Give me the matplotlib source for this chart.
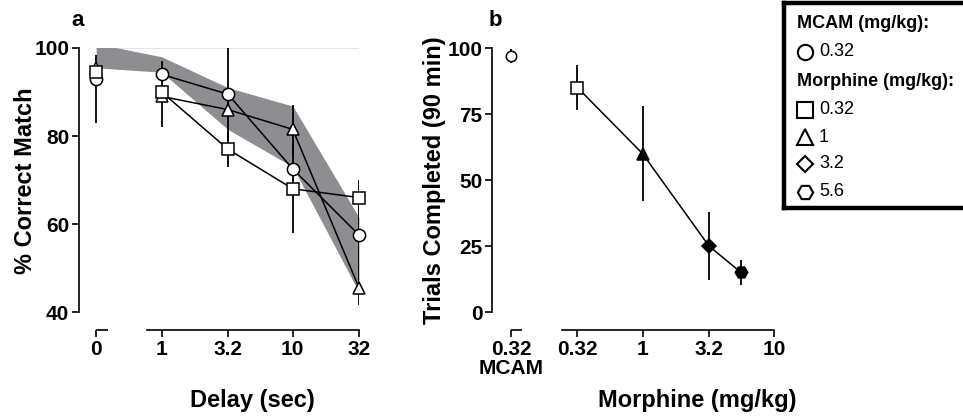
import matplotlib
matplotlib.use("Agg")
import matplotlib.pyplot as plt
from matplotlib.transforms import ScaledTranslation

plt.rcParams['font.family'] = ['Liberation Sans', 'DejaVu Sans']

# ---------------- Data ----------------
# Panel a: delay (sec); 0 is drawn on a broken axis segment
delay_labels = ["0", "1", "3.2", "10", "32"]
delay_pos = [10 ** -0.5, 1, 3.2, 10, 32]

band_lower = [95.5, 94.5, 81.5, 73.0, 44.5]
band_upper = [101.0, 98.0, 91.0, 86.8, 61.5]

mcam_a = [93.0, 94.0, 89.5, 72.5, 57.5]
mcam_a_lo = [10.0, 0.0, 10.5, 0.0, 8.0]
mcam_a_hi = [0.0, 3.0, 12.0, 0.0, 8.0]

morph032_a = [94.5, 90.0, 77.0, 68.0, 66.0]
morph032_a_lo = [0.0, 0.0, 4.0, 10.0, 4.0]
morph032_a_hi = [0.0, 0.0, 4.0, 10.0, 4.0]

morph1_a = [95.5, 89.0, 86.0, 81.5, 45.5]
morph1_a_lo = [3.0, 7.0, 0.0, 5.5, 4.0]
morph1_a_hi = [3.0, 7.0, 0.0, 5.5, 4.0]

# Panel b: trials completed
mcam_b_dose = [0.1]          # MCAM 0.32 drawn on broken segment
mcam_b = [97.0]
mcam_b_err = [2.6]

morph_b_dose = [0.32, 1, 3.2, 5.6]
morph_b = [85.0, 60.0, 25.0, 15.0]
morph_b_err = [8.5, 18.0, 13.0, 4.8]

b_tick_pos = [0.1, 0.32, 1, 3.2, 10]
b_tick_labels = ["0.32\nMCAM", "0.32", "1", "3.2", "10"]

# ---------------- Figure ----------------
W, H = 963, 420
fig = plt.figure(figsize=(W / 100, H / 100), dpi=100)
fig.patch.set_facecolor('white')

def frac(x0, y0, x1, y1):
    return [x0 / W, 1 - y1 / H, (x1 - x0) / W, (y1 - y0) / H]

LW = 1.1
MEW = 1.1
BLACK = 'black'
tick_fs = 15
lab_fs = 17

axa = fig.add_axes(frac(79, 48, 359, 312))
axb = fig.add_axes(frac(492, 48, 774, 312))

for ax in (axa, axb):
    ax.set_xscale('log')
    ax.minorticks_off()
    for s in ('top', 'right'):
        ax.spines[s].set_visible(False)
    ax.spines['left'].set_linewidth(1.2)
    ax.spines['bottom'].set_linewidth(1.2)
    ax.spines['bottom'].set_position(('outward', 13))
    ax.tick_params(axis='both', width=1.2, length=5, labelsize=tick_fs, pad=2)
    ax.tick_params(axis='x', length=5, pad=2.5)

# ---------- Panel a ----------
axa.set_xlim(0.234, 32)
axa.set_ylim(40, 100)
axa.set_yticks([40, 60, 80, 100])
axa.set_yticklabels(['40', '60', '80', '100'], fontweight='bold')
axa.set_xticks(delay_pos)
axa.set_xticklabels(delay_labels, fontweight='bold')
axa.minorticks_off()
axa.spines['bottom'].set_bounds(0.768, 32)

# faint frame
axa.plot([delay_pos[0], 32], [100, 100], color='#e4e4e4', lw=0.8, zorder=0)
axa.plot([32, 32], [40, 100], color='#e4e4e4', lw=0.8, zorder=0)

axa.fill_between(delay_pos, band_lower, band_upper, color='#8d8d92', lw=0, zorder=1)

series_a = [
    (mcam_a, mcam_a_lo, mcam_a_hi, 'o', 8.8),
    (morph1_a, morph1_a_lo, morph1_a_hi, '^', 9.3),
    (morph032_a, morph032_a_lo, morph032_a_hi, 's', 8.8),
]
for vals, lo, hi, mk, ms in series_a:
    axa.errorbar(delay_pos, vals, yerr=[lo, hi], fmt='none', ecolor=BLACK,
                 elinewidth=1.3, capsize=0, zorder=2)
for vals, lo, hi, mk, ms in series_a:
    axa.plot(delay_pos[1:], vals[1:], color=BLACK, lw=LW, zorder=3)
for vals, lo, hi, mk, ms in series_a:
    axa.plot(delay_pos, vals, ls='none', marker=mk, ms=ms, mfc='white',
             mec=BLACK, mew=MEW, zorder=4, clip_on=False)

# ---------- Panel b ----------
axb.set_xlim(0.0716, 10)
axb.set_ylim(0, 100)
axb.set_yticks([0, 25, 50, 75, 100])
axb.set_yticklabels(['0', '25', '50', '75', '100'], fontweight='bold')
axb.set_xticks(b_tick_pos)
axb.set_xticklabels(b_tick_labels, fontweight='bold', linespacing=0.95)
axb.minorticks_off()
axb.spines['bottom'].set_bounds(0.245, 10)

axb.errorbar(mcam_b_dose, mcam_b, yerr=mcam_b_err, fmt='none', ecolor=BLACK,
             elinewidth=1.3, capsize=0, zorder=2)
axb.errorbar(morph_b_dose, morph_b, yerr=morph_b_err, fmt='none', ecolor=BLACK,
             elinewidth=1.3, capsize=0, zorder=2)
axb.plot(morph_b_dose, morph_b, color=BLACK, lw=LW, zorder=3)
axb.plot(mcam_b_dose, mcam_b, ls='none', marker='o', ms=7.5, mfc='white',
         mec=BLACK, mew=MEW, zorder=4, clip_on=False)
b_markers = ['s', '^', 'D', 'H']
b_fill = ['white', BLACK, BLACK, BLACK]
b_ms = [8, 8.5, 7.5, 9]
for xv, yv, mk, fc, ms in zip(morph_b_dose, morph_b, b_markers, b_fill, b_ms):
    axb.plot([xv], [yv], ls='none', marker=mk, ms=ms, mfc=fc, mec=BLACK,
             mew=MEW, zorder=4, clip_on=False)

# short broken-axis segments
off = ScaledTranslation(0, -13 / 72, fig.dpi_scale_trans)
axa.plot([delay_pos[0], 0.387], [0, 0], transform=axa.get_xaxis_transform() + off,
         color=BLACK, lw=1.2, clip_on=False, solid_capstyle='butt')
axb.plot([0.1, 0.1213], [0, 0], transform=axb.get_xaxis_transform() + off,
         color=BLACK, lw=1.2, clip_on=False, solid_capstyle='butt')

# ---------- Labels ----------
def ftext(x, y, s, **kw):
    fig.text(x / W, 1 - y / H, s, **kw)

ftext(78, 21, 'a', fontsize=16, fontweight='bold', ha='center', va='center')
ftext(495, 20, 'b', fontsize=16, fontweight='bold', ha='center', va='center')
ftext(26, 181, '% Correct Match', fontsize=lab_fs, fontweight='bold',
      rotation=90, ha='center', va='center')
ftext(434, 180, 'Trials Completed (90 min)', fontsize=lab_fs, fontweight='bold',
      rotation=90, ha='center', va='center')
ftext(252, 401, 'Delay (sec)', fontsize=lab_fs, fontweight='bold',
      ha='center', va='center')
ftext(697, 401, 'Morphine (mg/kg)', fontsize=lab_fs, fontweight='bold',
      ha='center', va='center')

# ---------- Legend box ----------
axl = fig.add_axes(frac(784, 3, 963, 208))
axl.set_xlim(784, 963)
axl.set_ylim(208, 3)
axl.set_xticks([])
axl.set_yticks([])
for s in ('top', 'left', 'bottom'):
    axl.spines[s].set_linewidth(3.2)
axl.spines['right'].set_visible(False)

leg_fs = 13
axl.text(797, 23, 'MCAM (mg/kg):', fontsize=leg_fs, fontweight='bold', va='center')
axl.text(797, 82, 'Morphine (mg/kg):', fontsize=leg_fs, fontweight='bold', va='center')
leg_items = [('o', 52, '0.32', 11), ('s', 110, '0.32', 11), ('^', 137, '1', 11.5),
             ('D', 164, '3.2', 8.5), ('H', 192, '5.6', 11)]
for mk, yy, txt, ms in leg_items:
    axl.plot([805], [yy], marker=mk, ms=ms, mfc='white', mec=BLACK, mew=1.5,
             ls='none', clip_on=False)
    axl.text(819, yy, txt, fontsize=leg_fs, va='center')

fig.savefig('out.png', dpi=100, facecolor='white')
